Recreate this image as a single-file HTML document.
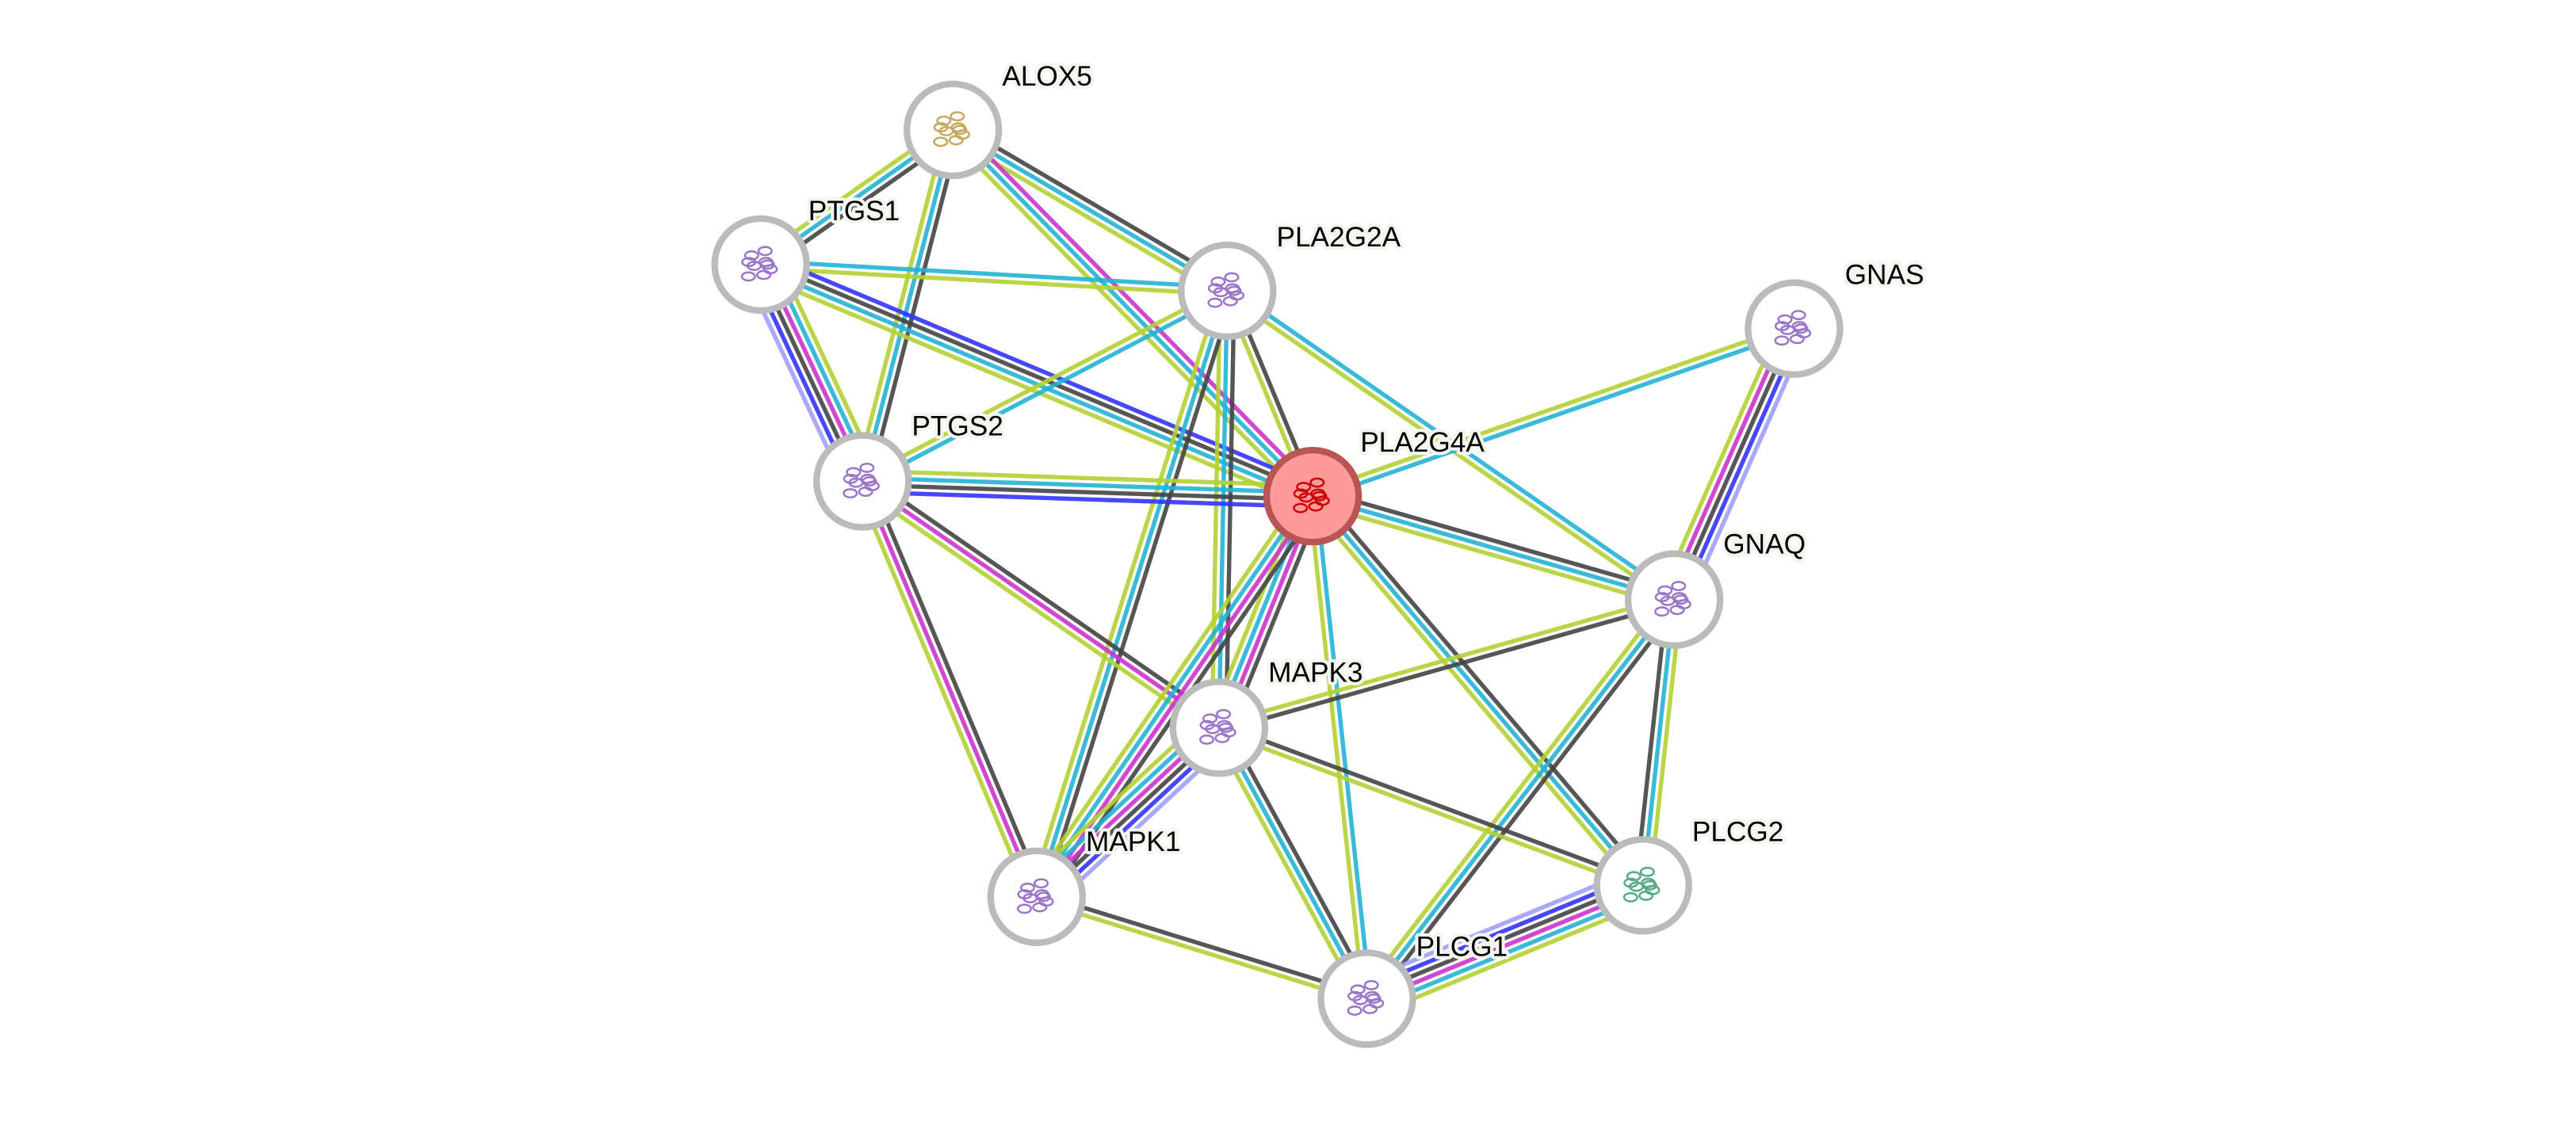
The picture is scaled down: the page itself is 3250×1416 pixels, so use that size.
<!DOCTYPE html>
<html><head><meta charset="utf-8"><style>
html,body{margin:0;padding:0;background:#fff;}
svg{display:block;}
text{font-family:"Liberation Sans",sans-serif;font-size:17px;fill:#000;paint-order:stroke;stroke:#f4f4f0;stroke-width:4px;stroke-linejoin:round;}
</style></head><body>
<svg id="s" width="3250" height="1416" viewBox="0 0 1568 683" xmlns="http://www.w3.org/2000/svg">
<g id="edges"></g><g id="nodes"></g><g id="labels"></g>
</svg>
<script>
var N={ALOX5:[580,79],PTGS1:[463,161],PLA2G2A:[747,177],GNAS:[1092,200],PTGS2:[525,293],PLA2G4A:[799,302],GNAQ:[1019,365],MAPK3:[742,443],MAPK1:[631,546],PLCG2:[1000,539],PLCG1:[832,608]};
var C={k:'#444444',c:'#22b3d4',l:'#b3d234',m:'#cc33cc',b:'#3333ff',v:'#9f9fff'};
var E=[
['ALOX5','PTGS1','kcl'],['ALOX5','PTGS2','kcl'],['ALOX5','PLA2G2A','kcl'],['ALOX5','PLA2G4A','mcl'],
['PTGS1','PLA2G2A','cl'],['PTGS1','PTGS2','lcmkbv'],['PTGS1','PLA2G4A','bkcl'],
['PLA2G2A','PTGS2','cl'],['PLA2G2A','PLA2G4A','kl'],['PLA2G2A','GNAQ','cl'],['PLA2G2A','MAPK3','kcl'],['PLA2G2A','MAPK1','kcl'],
['PTGS2','PLA2G4A','lckb'],['PTGS2','MAPK3','kml'],['PTGS2','MAPK1','kml'],
['GNAS','PLA2G4A','cl'],['GNAS','GNAQ','vbkml'],
['PLA2G4A','GNAQ','kcl'],['PLA2G4A','MAPK3','kmcl'],['PLA2G4A','MAPK1','kmcl'],['PLA2G4A','PLCG1','cl'],['PLA2G4A','PLCG2','kcl'],
['GNAQ','MAPK3','kl'],['GNAQ','PLCG1','kcl'],['GNAQ','PLCG2','lck'],
['MAPK3','MAPK1','vbkmcl'],['MAPK3','PLCG2','kl'],['MAPK3','PLCG1','kcl'],['MAPK1','PLCG1','kl'],
['PLCG1','PLCG2','vbkmcl']];
var ns='http://www.w3.org/2000/svg';
function el(t,a,p){var e=document.createElementNS(ns,t);for(var k in a)e.setAttribute(k,a[k]);p.appendChild(e);return e;}
var eg=document.getElementById('edges');
E.forEach(function(e){var a=N[e[0]],b=N[e[1]],dx=b[0]-a[0],dy=b[1]-a[1],L=Math.hypot(dx,dy),px=-dy/L,py=dx/L,n=e[2].length,sp=4.3;
for(var i=0;i<n;i++){var o=(i-(n-1)/2)*sp;el('line',{x1:a[0]+px*o,y1:a[1]+py*o,x2:b[0]+px*o,y2:b[1]+py*o,stroke:C[e[2][i]],'stroke-width':2.6,'stroke-opacity':0.9},eg);}});
var ng=document.getElementById('nodes');
for(var k in N){var p=N[k],c=k=='PLA2G4A';
el('circle',{cx:p[0],cy:p[1],r:28,fill:c?'#ff9a9a':'#fff',stroke:c?'#b85555':'#bbbbbb','stroke-width':4},ng);
var col=c?'#cc0000':(k=='ALOX5'?'#c8a860':(k=='PLCG2'?'#55aa88':'#9b75c8'));
for(var j=0;j<9;j++){var ang=j*0.7,rr=3+(j%4)*2.5;el('ellipse',{cx:p[0]+Math.cos(ang)*rr*1.4,cy:p[1]+Math.sin(ang)*rr*0.8,rx:4,ry:2.5,fill:'none',stroke:col,'stroke-width':1.2},ng);}}
var lg=document.getElementById('labels');
var T=[['ALOX5',610,52],['PTGS1',492,134],['PLA2G2A',777,150],['GNAS',1123,173],['PTGS2',555,265],['PLA2G4A',828,275],['GNAQ',1049,337],['MAPK3',772,415],['MAPK1',661,518],['PLCG2',1030,512],['PLCG1',862,582]];
T.forEach(function(t){var e=el('text',{x:t[1],y:t[2]},lg);e.textContent=t[0];});
</script>
</body></html>
